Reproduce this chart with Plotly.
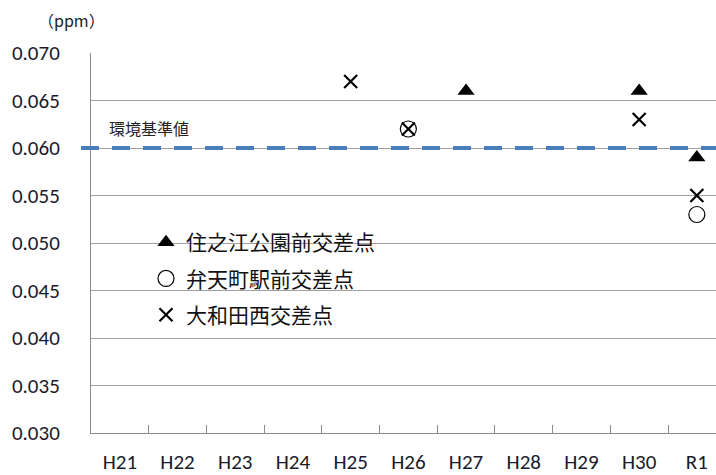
import plotly.graph_objects as go

# Fiscal years on the horizontal axis
years = ["H21", "H22", "H23", "H24", "H25", "H26", "H27", "H28", "H29", "H30", "R1"]

# NO2 annual values (ppm) per monitoring point; None = no reading shown
suminoe_koen = [None, None, None, None, None, None, 0.066, None, None, 0.066, 0.059]
bentencho = [None, None, None, None, None, 0.062, None, None, None, None, 0.053]
owadanishi = [None, None, None, None, 0.067, 0.062, None, None, None, 0.063, 0.055]

series_names = ["住之江公園前交差点", "弁天町駅前交差点", "大和田西交差点"]
standard_value = 0.060
y_ticks = [0.030, 0.035, 0.040, 0.045, 0.050, 0.055, 0.060, 0.065, 0.070]

jp_font = "Noto Sans CJK JP"
num_font = "Calibri, Carlito, Open Sans"

fig = go.Figure()

fig.add_trace(go.Scatter(
    x=years, y=suminoe_koen, mode="markers", name=series_names[0],
    legendgroup="a",
    marker=dict(symbol="triangle-up", size=15, color="black"),
))
fig.add_trace(go.Scatter(
    x=years, y=bentencho, mode="markers", name=series_names[1],
    legendgroup="b",
    marker=dict(symbol="circle-open", size=16, color="black",
                line=dict(width=1.2, color="black")),
))
fig.add_trace(go.Scatter(
    x=years, y=owadanishi, mode="markers", name=series_names[2],
    legendgroup="c",
    marker=dict(symbol="x-thin-open", size=13, color="black",
                line=dict(width=2.2, color="black")),
))

# White panel behind the legend, above the grid
fig.add_shape(type="rect", xref="paper", yref="paper",
              x0=(128 - 91) / 625, x1=(413 - 91) / 625,
              y0=(433 - 330) / 380, y1=(433 - 224) / 380,
              fillcolor="white", line=dict(width=0), layer="between")

# Environmental standard line
fig.add_shape(type="line", xref="paper", yref="y",
              x0=-0.016, x1=1.0, y0=standard_value, y1=standard_value,
              line=dict(color="#4A7EBB", width=4, dash="18px,13px"),
              layer="above")

fig.add_annotation(text="環境基準値", xref="paper", yref="y",
                   x=(107 - 91) / 625, y=standard_value, xanchor="left",
                   yanchor="bottom", yshift=6, showarrow=False,
                   font=dict(family=jp_font, size=16, color="#222"))

fig.add_annotation(text="（ppm）", xref="paper", yref="paper",
                   x=(36 - 91) / 625, y=(433 - 20) / 380, xanchor="left",
                   yanchor="middle", showarrow=False,
                   font=dict(family=jp_font, size=16, color="#222"))

fig.update_layout(
    width=716, height=475,
    margin=dict(l=91, r=0, t=53, b=42),
    paper_bgcolor="white", plot_bgcolor="white",
    showlegend=True,
    legend=dict(
        x=(146 - 91) / 625, y=(433 - 222) / 380,
        xanchor="left", yanchor="top",
        bgcolor="rgba(0,0,0,0)", borderwidth=0,
        font=dict(family=jp_font, size=21, color="#111"),
        tracegroupgap=6, itemwidth=30,
    ),
    xaxis=dict(
        type="category", categoryorder="array", categoryarray=years,
        range=[-0.5, -0.5 + 625 / 57.7],
        showgrid=False, showline=True, linecolor="#8c8c8c", linewidth=1,
        ticks="inside", tickson="boundaries", ticklen=8, tickcolor="#8c8c8c",
        tickfont=dict(family=num_font, size=21, color="#1a1a2a"),
        ticklabelstandoff=10,
    ),
    yaxis=dict(
        range=[0.030, 0.070], tickvals=y_ticks, tickformat=".3f",
        showgrid=True, gridcolor="#a0a0a0", gridwidth=1,
        showline=True, linecolor="#8c8c8c", linewidth=1,
        zeroline=False, ticks="",
        tickfont=dict(family=num_font, size=21, color="#1a1a2a"),
        ticklabelstandoff=26,
    ),
)

fig.write_html("out.html")
